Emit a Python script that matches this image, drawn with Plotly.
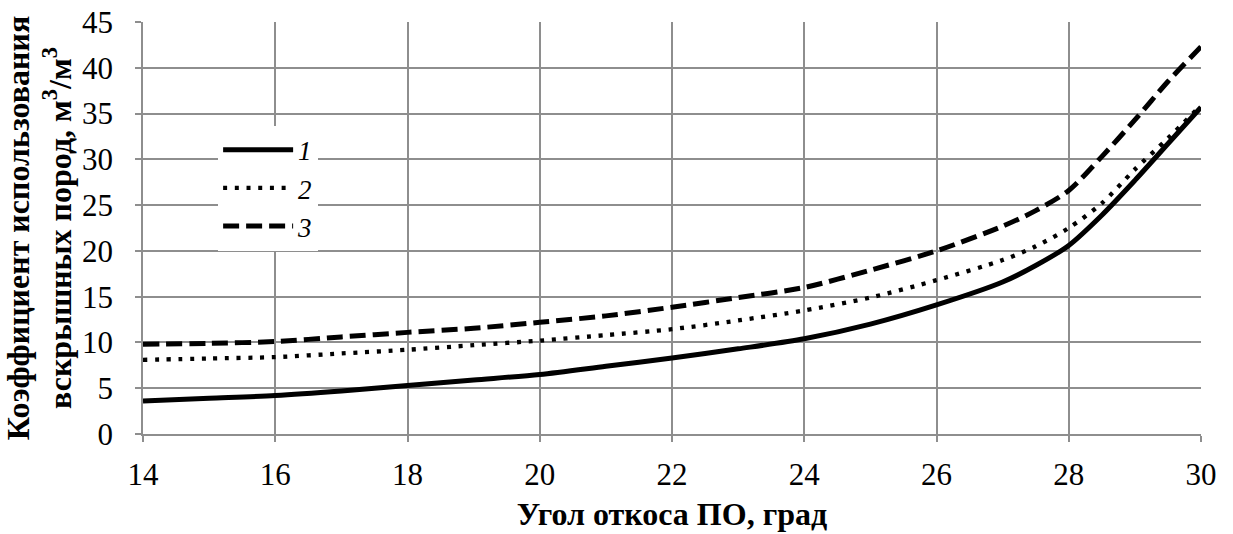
import plotly.graph_objects as go

x_deg = [14, 15, 16, 17, 18, 19, 20, 21, 22, 23, 24, 25, 26, 27, 27.5, 28, 28.5, 29, 29.5, 30]
series_1 = [3.6, 3.9, 4.2, 4.7, 5.3, 5.9, 6.5, 7.4, 8.3, 9.3, 10.4, 12.0, 14.1, 16.6, 18.4, 20.6, 23.9, 27.7, 31.7, 35.7]
series_2 = [8.1, 8.25, 8.4, 8.8, 9.2, 9.7, 10.2, 10.8, 11.45, 12.4, 13.5, 14.9, 16.8, 19.0, 20.5, 22.5, 25.2, 28.9, 32.3, 35.9]
series_3 = [9.8, 9.9, 10.1, 10.6, 11.1, 11.55, 12.2, 12.9, 13.85, 14.9, 16.0, 17.9, 20.0, 22.7, 24.4, 26.6, 30.3, 34.3, 38.5, 42.3]
names = ["<i>1</i>", "<i>2</i>", "<i>3</i>"]
x_ticks = [14, 16, 18, 20, 22, 24, 26, 28, 30]
y_ticks = [0, 5, 10, 15, 20, 25, 30, 35, 40, 45]

FONT = "Times New Roman, Liberation Serif, serif"
GRID = "#8e8e8e"

fig = go.Figure()
styles = [("solid", 5), ("4px,7.7px", 4.3), ("16px,7px", 5)]
for ys, name, (dash, w) in zip([series_1, series_2, series_3], names, styles):
    fig.add_trace(go.Scatter(
        x=x_deg, y=ys, name=name, mode="lines",
        line=dict(color="black", width=w, dash=dash, shape="spline", smoothing=0.8),
    ))

fig.update_layout(
    width=1233, height=534,
    margin=dict(l=143, r=32, t=22, b=100),
    plot_bgcolor="white", paper_bgcolor="white",
    font=dict(family=FONT, size=30, color="black"),
    showlegend=True,
    legend=dict(
        x=0.071, y=0.748, xanchor="left", yanchor="top",
        bgcolor="white", borderwidth=0,
        font=dict(family=FONT, size=27, color="black"),
        itemwidth=70, tracegroupgap=0,
    ),
    xaxis=dict(
        range=[14, 30], tickvals=x_ticks, ticktext=[str(v) for v in x_ticks],
        showgrid=True, gridcolor=GRID, gridwidth=1.5,
        showline=True, linecolor=GRID, linewidth=1.5,
        ticks="outside", ticklen=6, tickcolor=GRID, tickwidth=1.5,
        zeroline=False, ticklabelstandoff=6, automargin=False,
        tickfont=dict(family=FONT, size=31),
        title=dict(text="<b>Угол откоса ПО, град</b>", font=dict(family=FONT, size=32), standoff=12),
    ),
    yaxis=dict(
        range=[0, 45], tickvals=y_ticks,
        showgrid=True, gridcolor=GRID, gridwidth=1.5,
        showline=True, linecolor=GRID, linewidth=1.5,
        ticks="outside", ticklen=6, tickcolor=GRID, tickwidth=1.5,
        zeroline=False, ticklabelstandoff=16, automargin=False,
        tickfont=dict(family=FONT, size=31),
        title=dict(text="<b>Коэффициент использования<br>вскрышных пород, м<sup>3</sup>/м<sup>3</sup></b>",
                   font=dict(family=FONT, size=32), standoff=4),
    ),
)

fig.write_html("out.html")
